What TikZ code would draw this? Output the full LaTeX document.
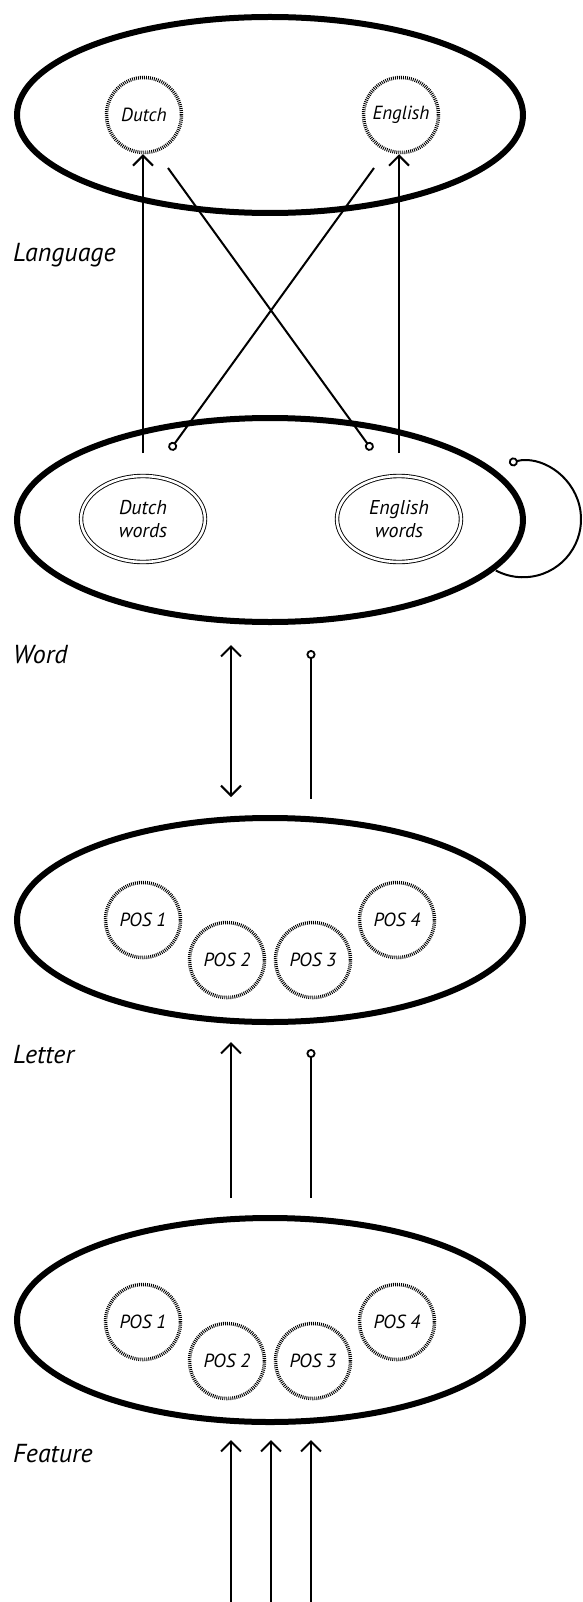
\documentclass[tikz,border=0pt]{standalone}
\usepackage{fontspec}
\setmainfont{PT Sans}
\usetikzlibrary{arrows.meta,shapes.geometric}

\tikzset{
  vtip/.tip={Straight Barb[length=10pt,width=20pt,line width=2pt]},
  otip/.tip={Circle[open,length=9pt,line width=1.8pt]},
  layer/.style={draw, ellipse, line width=6pt, minimum width=506pt, inner sep=0pt},
  unit/.style={draw, circle, line width=3.5pt, dash pattern=on 0.9pt off 1.1pt,
    minimum size=75pt, inner sep=0pt, font=\fontsize{19}{21}\selectfont\itshape},
  wordset/.style={draw, ellipse, line width=0.9pt, double=white, double distance=2.6pt,
    minimum width=124pt, minimum height=86pt, inner sep=0pt, align=center,
    font=\fontsize{20}{23}\selectfont\itshape},
  lvl/.style={anchor=base west, inner sep=0pt, font=\fontsize{26}{30}\selectfont\itshape},
  excite/.style={line width=2pt, -{vtip}},
  both/.style={line width=2pt, {vtip}-{vtip}},
  inhib/.style={line width=2pt, {otip}-},
}

\begin{document}
\begin{tikzpicture}[x=1pt,y=-1pt]
\useasboundingbox (0,0) rectangle (582,1602);

% language layer
\node[layer, minimum height=196pt] (lang) at (270,115) {};
\node[unit] (dutch) at (144,115) {Dutch};
\node[unit] (english) at (401,115) {English};
\node[lvl] (llang) at (13,262) {Language};

% word layer
\node[layer, minimum height=204pt] (word) at (270,520) {};
\node[wordset] (dw) at (143,519) {Dutch\\words};
\node[wordset] (ew) at (399,519) {English\\words};
\node[lvl] (lword) at (13,663) {Word};

% connections between words and languages
\coordinate (dwup) at (143,453);
\coordinate (ewup) at (399,453);
\coordinate (dwinh) at (170,450);
\coordinate (ewinh) at (372,450);
\coordinate (dfrom) at (168,168);
\coordinate (efrom) at (374,168);
\draw[excite] (dwup) -- (dwup |- dutch.south);
\draw[excite] (ewup) -- (ewup |- english.south);
\draw[inhib] (dwinh) -- (efrom);
\draw[inhib] (ewinh) -- (dfrom);

% lateral inhibition loop on the word layer
\coordinate (loopA) at (509,463);
\draw[inhib] (loopA) arc[start angle=-104, end angle=118, radius=58];

% letter layer
\node[layer, minimum height=204pt] (letter) at (270,920) {};
\node[unit] (l1) at (143,920) {POS 1};
\node[unit] (l2) at (227,960) {POS 2};
\node[unit] (l3) at (313,960) {POS 3};
\node[unit] (l4) at (397,920) {POS 4};
\node[lvl] (lletter) at (13,1063) {Letter};

\coordinate (wl1) at (231,645);
\coordinate (wl2) at (231,797);
\coordinate (wi1) at (311,650);
\coordinate (wi2) at (311,799);
\draw[both] (wl2) -- (wl1);
\draw[inhib] (wi1) -- (wi2);

% feature layer
\node[layer, minimum height=204pt] (feature) at (270,1320) {};
\node[unit] (f1) at (143,1322) {POS 1};
\node[unit] (f2) at (227,1361) {POS 2};
\node[unit] (f3) at (313,1361) {POS 3};
\node[unit] (f4) at (397,1322) {POS 4};
\node[lvl] (lfeature) at (13,1462) {Feature};

\coordinate (le1) at (231,1198);
\coordinate (le2) at (231,1042);
\coordinate (li1) at (311,1049);
\coordinate (li2) at (311,1198);
\draw[excite] (le1) -- (le2);
\draw[inhib] (li1) -- (li2);

% input from below
\coordinate (in1) at (231,1602);
\coordinate (in2) at (271,1602);
\coordinate (in3) at (311,1602);
\coordinate (up1) at (231,1440);
\coordinate (up2) at (271,1440);
\coordinate (up3) at (311,1440);
\draw[excite] (in1) -- (up1);
\draw[excite] (in2) -- (up2);
\draw[excite] (in3) -- (up3);
\end{tikzpicture}
\end{document}
